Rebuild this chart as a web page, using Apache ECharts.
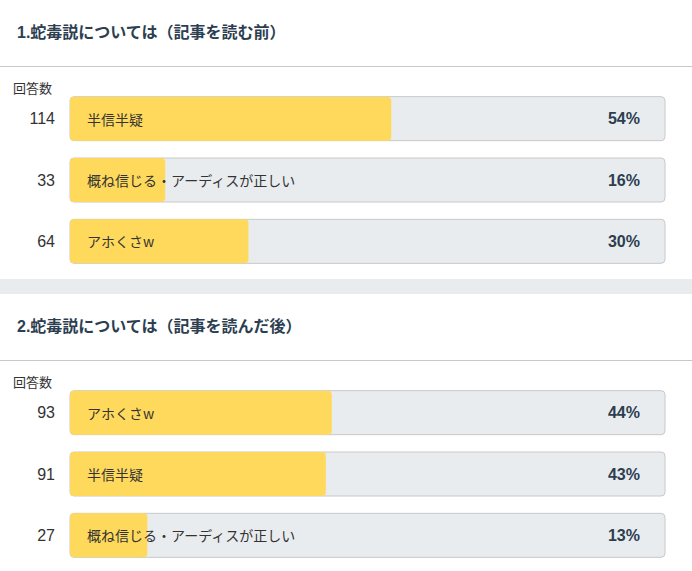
<!DOCTYPE html>
<html>
<head>
<meta charset="utf-8">
<script src="https://cdn.jsdelivr.net/npm/echarts@6/dist/echarts.min.js"></script>
<style>
  html, body { margin: 0; padding: 0; background: #fff; }
  #chart { width: 692px; height: 571px; }
</style>
</head>
<body>
<div id="chart"></div>
<script>
// 投票結果 (記事を読む前 / 読んだ後)
var titles = ['1.蛇毒説については（記事を読む前）', '2.蛇毒説については（記事を読んだ後）'];

var choicesBefore = ['半信半疑', '概ね信じる・アーディスが正しい', 'アホくさw'];
var countsBefore = [114, 33, 64];
var percentBefore = [54, 16, 30];

var choicesAfter = ['アホくさw', '半信半疑', '概ね信じる・アーディスが正しい'];
var countsAfter = [93, 91, 27];
var percentAfter = [44, 43, 13];

var font = '"Liberation Sans", "Noto Sans CJK JP", sans-serif';
var jpFont = '"Noto Sans CJK JP", sans-serif';
var ink = '#2c3e50';
var text = '#333';
var yellow = '#ffd95c';
var track = '#e9ecef';
var rule = '#c8c8c8';

var chart = echarts.init(document.getElementById('chart'), null, { renderer: 'svg' });

function yAxes(idx, counts, percents) {
  return [
    {
      type: 'category', gridIndex: idx, inverse: true, z: 10,
      data: counts.map(String),
      axisLine: { show: false }, axisTick: { show: false },
      axisLabel: { color: text, fontSize: 16, margin: 15, fontFamily: font }
    },
    {
      type: 'category', gridIndex: idx, inverse: true, position: 'right', z: 10,
      data: percents.map(function(p) { return p + '%'; }),
      axisLine: { show: false }, axisTick: { show: false },
      axisLabel: { inside: true, margin: 25, color: ink, fontSize: 16, fontWeight: 'bold', fontFamily: font }
    }
  ];
}

function barSeries(idx, names, percents) {
  return {
    type: 'bar',
    xAxisIndex: idx,
    yAxisIndex: idx * 2,
    data: percents,
    barWidth: 44,
    showBackground: true,
    backgroundStyle: { color: track, borderColor: rule, borderWidth: 1, borderRadius: 4 },
    itemStyle: { color: yellow, borderRadius: 4 },
    label: {
      show: true,
      position: 'insideLeft',
      distance: 17,
      color: text,
      fontSize: 14,
      fontFamily: jpFont,
      formatter: function(p) { return names[p.dataIndex]; }
    },
    silent: true
  };
}

chart.setOption({
  animation: false,
  title: [
    { text: titles[0], left: 17, top: 24, padding: 0, textStyle: { color: ink, fontSize: 16, fontWeight: 'bold', fontFamily: font } },
    { text: titles[1], left: 17, top: 318, padding: 0, textStyle: { color: ink, fontSize: 16, fontWeight: 'bold', fontFamily: font } }
  ],
  graphic: [
    { type: 'line', shape: { x1: 0, y1: 66.5, x2: 692, y2: 66.5 }, style: { stroke: rule, lineWidth: 1 } },
    { type: 'rect', shape: { x: 0, y: 279, width: 692, height: 15 }, style: { fill: track } },
    { type: 'line', shape: { x1: 0, y1: 360.5, x2: 692, y2: 360.5 }, style: { stroke: rule, lineWidth: 1 } },
    { type: 'text', left: 13, top: 82, style: { text: '回答数', fill: text, fontSize: 13, fontFamily: font } },
    { type: 'text', left: 13, top: 376, style: { text: '回答数', fill: text, fontSize: 13, fontFamily: font } }
  ],
  grid: [
    { left: 70, right: 27, top: 88, height: 184 },
    { left: 70, right: 27, top: 382, height: 184 }
  ],
  xAxis: [
    { type: 'value', gridIndex: 0, min: 0, max: 100, show: false },
    { type: 'value', gridIndex: 1, min: 0, max: 100, show: false }
  ],
  yAxis: yAxes(0, countsBefore, percentBefore).concat(yAxes(1, countsAfter, percentAfter)),
  series: [
    barSeries(0, choicesBefore, percentBefore),
    barSeries(1, choicesAfter, percentAfter)
  ]
});
</script>
</body>
</html>
